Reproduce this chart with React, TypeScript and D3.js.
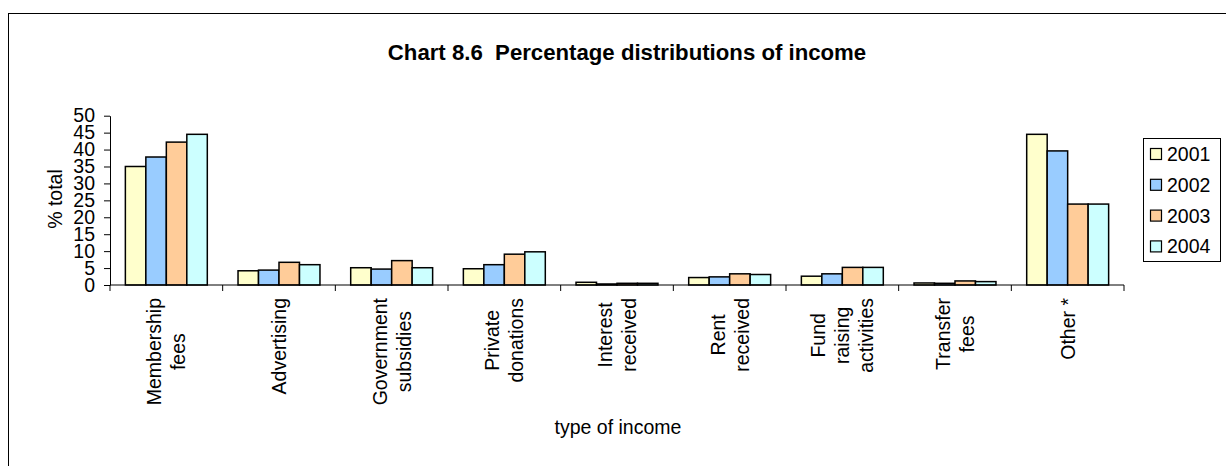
import React, { useEffect, useRef } from "react";
import * as d3 from "d3";

const categories = [
  "Membership fees",
  "Advertising",
  "Government subsidies",
  "Private donations",
  "Interest received",
  "Rent received",
  "Fund raising activities",
  "Transfer fees",
  "Other *",
];
const categoryLines = [
  ["Membership", "fees"],
  ["Advertising"],
  ["Government", "subsidies"],
  ["Private", "donations"],
  ["Interest", "received"],
  ["Rent", "received"],
  ["Fund", "raising", "activities"],
  ["Transfer", "fees"],
  ["Other *"],
];
const seriesNames = ["2001", "2002", "2003", "2004"];
const values2001 = [35.0, 4.2, 5.1, 4.8, 0.8, 2.2, 2.6, 0.6, 44.5];
const values2002 = [37.8, 4.4, 4.7, 6.0, 0.3, 2.4, 3.3, 0.5, 39.6];
const values2003 = [42.2, 6.7, 7.2, 9.1, 0.5, 3.3, 5.2, 1.2, 23.9];
const values2004 = [44.5, 6.0, 5.1, 9.8, 0.5, 3.1, 5.2, 1.0, 23.9];
const seriesValues = [values2001, values2002, values2003, values2004];
const seriesColors = ["#FFFFCC", "#99CCFF", "#FFCC99", "#CCFFFF"];
const yTicks = [0, 5, 10, 15, 20, 25, 30, 35, 40, 45, 50];

const W = 1226;
const H = 466;
const FONT = "'Liberation Sans', Arial, Helvetica, sans-serif";
const FS = 19.5;

export default function App() {
  const ref = useRef<SVGSVGElement>(null);

  useEffect(() => {
    const svg = d3.select(ref.current);
    svg.selectAll("*").remove();

    const left = 110, right = 1124, top = 115.7, bottom = 285;
    const x = d3.scaleBand<string>().domain(categories).range([left, right]).paddingInner(0).paddingOuter(0);
    const y = d3.scaleLinear().domain([0, 50]).range([bottom, top]);
    const bw = x.bandwidth();
    const barW = bw / 5.5;
    const off = (bw - barW * 4) / 2;

    // frame
    svg.append("rect").attr("x", 8.5).attr("y", 13.5).attr("width", 1400).attr("height", 600)
      .attr("fill", "white").attr("stroke", "black").attr("stroke-width", 1);

    // title
    svg.append("text").attr("x", 627).attr("y", 60).attr("text-anchor", "middle")
      .attr("font-family", FONT).attr("font-weight", "bold").attr("font-size", 22.2)
      .style("white-space", "pre").attr("xml:space", "preserve")
      .text("Chart 8.6  Percentage distributions of income");

    // bars
    seriesValues.forEach((vals, si) => {
      svg.append("g").selectAll("rect").data(vals).join("rect")
        .attr("x", (_d, i) => (x(categories[i]) as number) + off + si * barW)
        .attr("y", (d) => y(d))
        .attr("width", barW)
        .attr("height", (d) => bottom - y(d))
        .attr("fill", seriesColors[si])
        .attr("stroke", "black")
        .attr("stroke-width", 1.5);
    });

    // y axis
    const yAxis = d3.axisLeft(y).tickValues(yTicks).tickSize(6).tickPadding(9).tickSizeOuter(0);
    const yg = svg.append("g").attr("transform", `translate(${left},0)`).call(yAxis);
    yg.selectAll("text").attr("font-family", FONT).attr("font-size", FS).attr("fill", "black");
    yg.selectAll("line,path").attr("stroke", "black");

    // x axis
    svg.append("line").attr("x1", left).attr("x2", right).attr("y1", bottom).attr("y2", bottom)
      .attr("stroke", "black");
    const bounds = categories.map((c) => x(c) as number).concat([right]);
    svg.append("g").selectAll("line").data(bounds).join("line")
      .attr("x1", (d) => d).attr("x2", (d) => d).attr("y1", bottom).attr("y2", bottom + 6)
      .attr("stroke", "black");

    // category labels (rotated, multi-line, centered on longest line)
    const lg = svg.append("g");
    categoryLines.forEach((lines, i) => {
      const cx = (x(categories[i]) as number) + bw / 2;
      const g = lg.append("g").attr("transform", `translate(${cx},298) rotate(-90)`);
      const t = g.append("text").attr("font-family", FONT).attr("font-size", FS).attr("text-anchor", "middle");
      const spans = lines.map((l, li) =>
        t.append("tspan").attr("x", 0).attr("y", (li - (lines.length - 1) / 2) * 24 + 7).text(l)
      );
      const maxLen = d3.max(spans, (s) => (s.node() as SVGTSpanElement).getComputedTextLength()) || 0;
      spans.forEach((s) => s.attr("x", -maxLen / 2));
    });

    // axis titles
    svg.append("text").attr("transform", "translate(61.5,199) rotate(-90)").attr("text-anchor", "middle")
      .attr("font-family", FONT).attr("font-size", FS).text("% total");
    svg.append("text").attr("x", 618).attr("y", 433.5).attr("text-anchor", "middle")
      .attr("font-family", FONT).attr("font-size", FS).text("type of income");

    // legend
    svg.append("rect").attr("x", 1143.5).attr("y", 138.5).attr("width", 77).attr("height", 123)
      .attr("fill", "white").attr("stroke", "black").attr("stroke-width", 1);
    const leg = svg.append("g").selectAll("g").data(seriesNames).join("g")
      .attr("transform", (_d, i) => `translate(0,${154 + i * 30.8})`);
    leg.append("rect").attr("x", 1150.5).attr("y", -5.5).attr("width", 11).attr("height", 11)
      .attr("fill", (_d, i) => seriesColors[i]).attr("stroke", "black").attr("stroke-width", 1.2);
    leg.append("text").attr("x", 1167).attr("dy", "0.36em").attr("font-family", FONT).attr("font-size", FS)
      .text((d) => d);
  }, []);

  return (
    <svg
      ref={ref}
      width={W}
      height={H}
      style={{ position: "absolute", left: 0, top: 0, display: "block", background: "white" }}
    />
  );
}
